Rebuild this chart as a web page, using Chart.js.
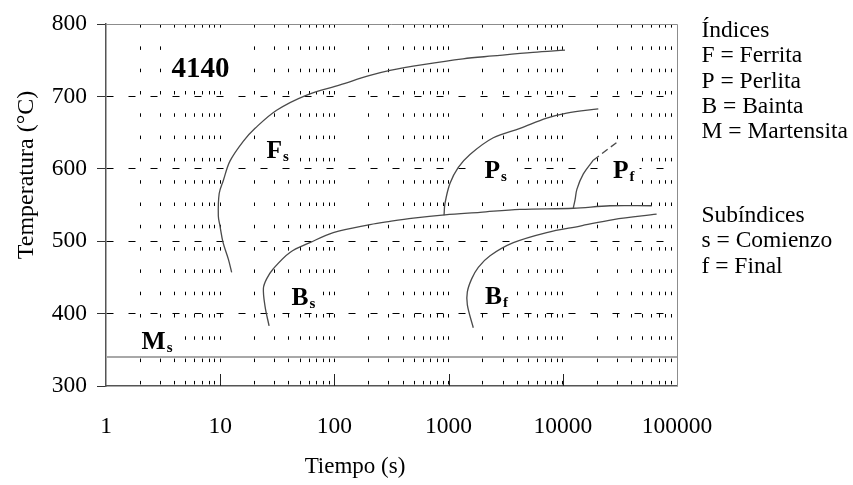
<!DOCTYPE html>
<html><head><meta charset="utf-8">
<script src="https://cdn.jsdelivr.net/npm/chart.js@4.4.0/dist/chart.umd.min.js"></script>
<style>html,body{margin:0;padding:0;background:#fff;}#wrap{position:relative;width:853px;height:485px;}</style>
</head><body><div id="wrap"><canvas id="c"></canvas></div>
<script>
// ---------- data ----------
const decadeTicks = [1, 10, 100, 1000, 10000, 100000];
const minorMult = [1, 2, 3, 4, 5, 6, 7, 8, 9];
const tempTicks = [300, 400, 500, 600, 700, 800];

const fsTime = [12.6, 11.8, 10.6, 9.96, 9.63, 9.8, 10.65, 12.2, 15.9, 20.2, 31.2, 57.2, 112, 205, 307, 597, 1336, 2449, 5483, 10450];
const fsTemp = [457, 475, 498, 521, 535, 566, 584, 611, 638, 656, 681, 702, 716, 729, 736, 744, 752, 756, 761, 764];

const psTime = [912, 929, 1029, 1216, 1539, 2462, 4220, 7230, 10820, 20460];
const psTemp = [536, 552, 580, 602, 620, 643, 656, 670, 677, 683];

const pfTime = [12360, 12800, 13300, 15130, 18500];
const pfTemp = [546, 557, 572, 593, 612];
const pfDashTime = [18500, 29650];
const pfDashTemp = [612, 636.5];

const bsTime = [26.8, 24.7, 23.9, 25.5, 29.2, 40.8, 61, 97.8, 205, 307, 491, 929, 1884, 4220, 12360, 25900, 60000];
const bsTemp = [383, 410, 435, 448, 462, 484.5, 498, 512, 523, 527.5, 532, 536.5, 540, 544, 545.6, 549, 549];

const bfTime = [1645, 1459, 1459, 1592, 1820, 2307, 3690, 7230, 14150, 27700, 66300];
const bfTemp = [380.5, 412, 430, 448, 464, 480, 498, 512, 521, 530, 537.5];

const msTime = [1, 100000];
const msTemp = [340, 340];

// ---------- text ----------
const xTitle = 'Tiempo (s)';
const yTitle = 'Temperatura (°C)';
const legendGroup1 = ['Índices', 'F = Ferrita', 'P = Perlita', 'B = Bainta', 'M = Martensita'];
const legendGroup2 = ['Subíndices', 's = Comienzo', 'f = Final'];
// curve labels: anchor (time, temperature) = left/baseline of the text
const curveLabels = [
  {main: '4140', sub: '', t: 3.75, c: 727.3, size: 29},
  {main: 'F', sub: 's', t: 25.4, c: 615.2, size: 25.5},
  {main: 'P', sub: 's', t: 2063, c: 586.7, size: 25.5},
  {main: 'P', sub: 'f', t: 27520, c: 586.7, size: 25.5},
  {main: 'B', sub: 's', t: 42.1, c: 412.1, size: 25.5},
  {main: 'B', sub: 'f', t: 2083, c: 412.8, size: 25.5},
  {main: 'M', sub: 's', t: 2.05, c: 351, size: 25.5}
];

const FONT = "'Liberation Serif', serif";
Chart.defaults.font.family = FONT;
const gridTimes = decadeTicks.flatMap((d, i) => i < decadeTicks.length - 1 ? minorMult.map(m => d * m) : [d]);
const pts = (xs, ys) => xs.map((v, i) => ({x: v, y: ys[i]}));

const curve = (label, xs, ys, extra) => Object.assign({
  label, data: pts(xs, ys), showLine: true, pointRadius: 0, borderColor: '#4a4a4a',
  borderWidth: 1.3, tension: 0.35, fill: false
}, extra || {});

const annot = {
  id: 'annot',
  beforeDatasetsDraw(chart) {
    const {ctx, chartArea: a, scales: {x, y}} = chart;
    ctx.save();
    ctx.fillStyle = '#fff';
    curveLabels.forEach(l => {
      const px = x.getPixelForValue(l.t), py = y.getPixelForValue(l.c);
      ctx.font = 'bold ' + l.size + 'px ' + FONT;
      let w = ctx.measureText(l.main).width;
      if (l.sub) { ctx.font = 'bold ' + Math.round(l.size * 0.6) + 'px ' + FONT; w += 1 + ctx.measureText(l.sub).width; }
      const top = l.sub ? 7 : 20;
      ctx.fillRect(px - 5, py - l.size * 0.68 - top, w + 10, l.size * 0.68 + top + 8);
    });
    ctx.strokeStyle = '#222'; ctx.lineWidth = 1;
    decadeTicks.slice(1, -1).forEach(v => {
      const px = Math.round(x.getPixelForValue(v)) + 0.5;
      ctx.beginPath(); ctx.moveTo(px, a.bottom); ctx.lineTo(px, a.bottom - 12); ctx.stroke();
    });
    ctx.strokeStyle = '#8c8c8c'; ctx.lineWidth = 1;
    ctx.beginPath();
    ctx.moveTo(a.left, Math.round(a.top) + 0.5); ctx.lineTo(Math.round(a.right) + 0.5, Math.round(a.top) + 0.5);
    ctx.lineTo(Math.round(a.right) + 0.5, a.bottom);
    ctx.stroke();
    ctx.restore();
  },
  afterDatasetsDraw(chart) {
    const {ctx, scales: {x, y}} = chart;
    ctx.save();
    ctx.fillStyle = '#000'; ctx.textBaseline = 'alphabetic'; ctx.textAlign = 'left';
    curveLabels.forEach(l => {
      const px = x.getPixelForValue(l.t), py = y.getPixelForValue(l.c);
      ctx.font = 'bold ' + l.size + 'px ' + FONT;
      ctx.fillText(l.main, px, py);
      const w = ctx.measureText(l.main).width;
      if (l.sub) {
        ctx.font = 'bold ' + Math.round(l.size * 0.6) + 'px ' + FONT;
        ctx.fillText(l.sub, px + w + 1, py + 3);
      }
    });
    ctx.restore();
  },
  afterDraw(chart) {
    const {ctx} = chart;
    ctx.save();
    ctx.fillStyle = '#000';
    ctx.font = '23.5px ' + FONT; ctx.textAlign = 'left'; ctx.textBaseline = 'alphabetic';
    legendGroup1.forEach((s, i) => ctx.fillText(s, 701.5, 36.7 + i * 25.4));
    legendGroup2.forEach((s, i) => ctx.fillText(s, 701.5, 221.7 + i * 25.5));
    ctx.font = '23px ' + FONT; ctx.textAlign = 'center';
    ctx.fillText(xTitle, 355, 473);
    ctx.translate(32.5, 175); ctx.rotate(-Math.PI / 2);
    ctx.font = '24px ' + FONT;
    ctx.fillText(yTitle, 0, 0);
    ctx.restore();
  }
};

new Chart(document.getElementById('c'), {
  type: 'scatter',
  data: {
    datasets: [
      curve('Ms', msTime, msTemp, {borderColor: '#a8a8a8', borderWidth: 2, tension: 0}),
      curve('Fs', fsTime, fsTemp),
      curve('Ps', psTime, psTemp),
      curve('Pf', pfTime, pfTemp),
      curve('Pf (dashed)', pfDashTime, pfDashTemp, {borderDash: [7, 4], tension: 0}),
      curve('Bs', bsTime, bsTemp),
      curve('Bf', bfTime, bfTemp)
    ]
  },
  options: {
    responsive: true, maintainAspectRatio: false, animation: false,
    layout: {padding: {left: 0, right: 176, top: 18, bottom: 0}},
    plugins: {legend: {display: false}, tooltip: {enabled: false}},
    scales: {
      x: {
        type: 'logarithmic', min: 1, max: 100000,
        afterBuildTicks: s => { s.ticks = gridTimes.map(v => ({value: v, major: decadeTicks.includes(v)})); },
        afterFit: s => { s.height = 99; },
        ticks: {
          autoSkip: false, maxRotation: 0, padding: 27, color: '#000',
          font: {family: FONT, size: 23.5},
          callback: v => decadeTicks.includes(v) ? String(v) : ''
        },
        grid: {
          drawTicks: false, lineWidth: 1,
          color: c => (c.tick && (c.tick.value === 1 || c.tick.value === 100000)) ? 'rgba(0,0,0,0)' : '#000'
        },
        border: {display: true, color: '#555', width: 1.5, dash: [3.5, 18.8]}
      },
      y: {
        type: 'linear', min: 300, max: 800,
        afterBuildTicks: s => { s.ticks = tempTicks.map(v => ({value: v})); },
        afterFit: s => { s.width = 106; },
        ticks: {padding: 10, color: '#000', font: {family: FONT, size: 23.5}},
        grid: {
          drawTicks: true, tickLength: 9, tickColor: '#333', lineWidth: 1,
          color: c => (c.tick && (c.tick.value === 300 || c.tick.value === 800)) ? 'rgba(0,0,0,0)' : '#000'
        },
        border: {display: true, color: '#555', width: 1.5, dash: [7, 15]}
      }
    }
  },
  plugins: [annot]
});
</script></body></html>
